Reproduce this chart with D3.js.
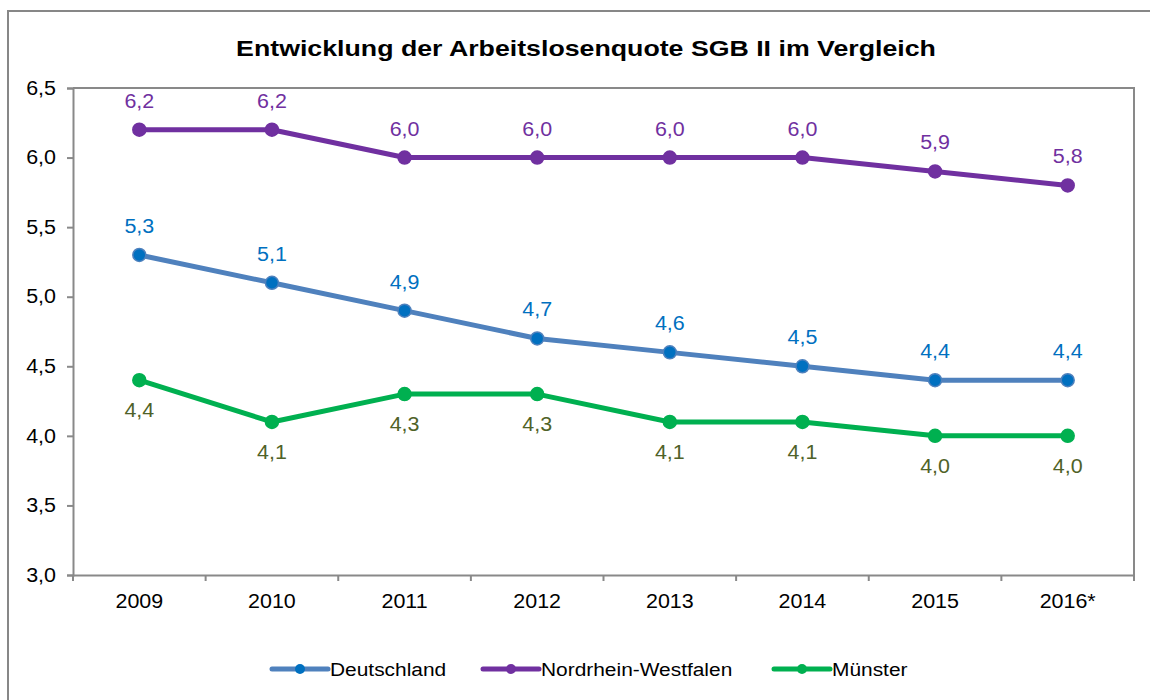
<!DOCTYPE html>
<html>
<head>
<meta charset="utf-8">
<title>Entwicklung der Arbeitslosenquote SGB II im Vergleich</title>
<script src="https://d3js.org/d3.v7.min.js"></script>
<style>
  body { margin: 0; background: #fff; font-family: "Liberation Sans", Arial, sans-serif; }
  .label { font-size: 19.5px; text-anchor: middle; }
  .legend_text { font-size: 19px; fill: #000; }
</style>
</head>
<body>
<div id="chart"></div>
<script>
  // data
  const years = ["2009", "2010", "2011", "2012", "2013", "2014", "2015", "2016*"];
  const deutschland = [5.3, 5.1, 4.9, 4.7, 4.6, 4.5, 4.4, 4.4];
  const nrw = [6.2, 6.2, 6.0, 6.0, 6.0, 6.0, 5.9, 5.8];
  const muenster = [4.4, 4.1, 4.3, 4.3, 4.1, 4.1, 4.0, 4.0];
  const yTicks = [3.0, 3.5, 4.0, 4.5, 5.0, 5.5, 6.0, 6.5];

  const series = [
    {name: "Deutschland", values: deutschland, line: "#4F81BD", dot: "#0070C0", dotStroke: "#4F81BD", label: "#0070C0", above: true},
    {name: "Nordrhein-Westfalen", values: nrw, line: "#7030A0", dot: "#7030A0", dotStroke: "#7030A0", label: "#7030A0", above: true},
    {name: "Münster", values: muenster, line: "#00B050", dot: "#00B050", dotStroke: "#00B050", label: "#4F6228", above: false}
  ];

  const W = 1150, H = 700;
  const plot = {left: 73, right: 1134, top: 88, bottom: 575};
  const SX = 1.1; // the original text is a bit wider than Arial
  const fmt = v => d3.format(".1f")(v).replace(".", ",");

  const svg = d3.select("#chart").append("svg")
      .attr("width", W)
      .attr("height", H);

  // outer chart frame (runs off the right / bottom edge)
  svg.append("rect")
      .attr("x", 8).attr("y", 11)
      .attr("width", W).attr("height", H)
      .attr("fill", "none")
      .attr("stroke", "#878787")
      .attr("stroke-width", 2);

  // title
  svg.append("text")
      .attr("transform", "translate(586,56) scale(1.215,1)")
      .attr("text-anchor", "middle")
      .style("font-size", "22px")
      .style("font-weight", "bold")
      .text("Entwicklung der Arbeitslosenquote SGB II im Vergleich");

  const x = d3.scaleBand()
      .domain(years)
      .range([plot.left, plot.right]);

  const y = d3.scaleLinear()
      .domain([3, 6.5])
      .range([plot.bottom, plot.top]);

  // plot frame top + right
  svg.append("path")
      .attr("d", `M${plot.left},${plot.top}H${plot.right}V${plot.bottom + 6}`)
      .attr("fill", "none")
      .attr("stroke", "#898989")
      .attr("stroke-width", 2);

  // y axis
  const yAxis = svg.append("g")
      .attr("transform", `translate(${plot.left},0)`)
      .call(d3.axisLeft(y).tickValues(yTicks).tickFormat(fmt).tickSize(6));

  yAxis.selectAll("text")
      .attr("x", 0)
      .attr("transform", `translate(-17,0) scale(${SX},1)`);

  // x axis
  const xAxis = svg.append("g")
      .attr("transform", `translate(0,${plot.bottom})`)
      .call(d3.axisBottom(x).tickSize(0).tickPadding(19));

  xAxis.selectAll("text")
      .attr("transform", `scale(${SX},1)`);

  svg.selectAll(".tick text")
      .attr("font-family", "Liberation Sans, Arial, sans-serif")
      .attr("font-size", "19.5px")
      .attr("fill", "#000");

  // x tick marks at category boundaries
  svg.selectAll(".xsep")
      .data(years)
      .enter()
      .append("line")
        .attr("x1", d => x(d)).attr("x2", d => x(d))
        .attr("y1", plot.bottom).attr("y2", plot.bottom + 6)
        .attr("stroke", "#898989")
        .attr("stroke-width", 2);

  svg.selectAll(".domain, .tick line")
      .attr("stroke", "#898989")
      .attr("stroke-width", 2);

  const cx = d => x(d) + x.bandwidth() / 2;

  const line = d3.line()
      .x((d, i) => cx(years[i]))
      .y(d => y(d));

  series.forEach(s => {
    svg.append("path")
        .datum(s.values)
        .attr("d", line)
        .attr("fill", "none")
        .attr("stroke", s.line)
        .attr("stroke-width", 5)
        .attr("stroke-linejoin", "round");

    svg.selectAll(null)
        .data(s.values)
        .enter()
        .append("circle")
          .attr("cx", (d, i) => cx(years[i]))
          .attr("cy", d => y(d))
          .attr("r", 6.5)
          .attr("fill", s.dot)
          .attr("stroke", s.dotStroke)
          .attr("stroke-width", 1.5);

    svg.selectAll(null)
        .data(s.values)
        .enter()
        .append("text")
          .attr("class", "label")
          .attr("transform", (d, i) =>
            `translate(${cx(years[i])},${y(d) + (s.above ? -22 : 37)}) scale(${SX},1)`)
          .attr("fill", s.label)
          .text(d => fmt(d));
  });

  // legend
  const legendItems = [
    {s: series[0], x: 272},
    {s: series[1], x: 483},
    {s: series[2], x: 774}
  ];
  const ly = 669;
  legendItems.forEach(it => {
    const g = svg.append("g");
    g.append("line")
        .attr("x1", it.x).attr("x2", it.x + 56)
        .attr("y1", ly).attr("y2", ly)
        .attr("stroke", it.s.line)
        .attr("stroke-width", 5)
        .attr("stroke-linecap", "round");
    g.append("circle")
        .attr("cx", it.x + 28).attr("cy", ly)
        .attr("r", 5)
        .attr("fill", it.s.dot);
    g.append("text")
        .attr("class", "legend_text")
        .attr("transform", `translate(${it.x + 58},${ly + 7}) scale(${SX},1)`)
        .text(it.s.name);
  });
</script>
</body>
</html>
